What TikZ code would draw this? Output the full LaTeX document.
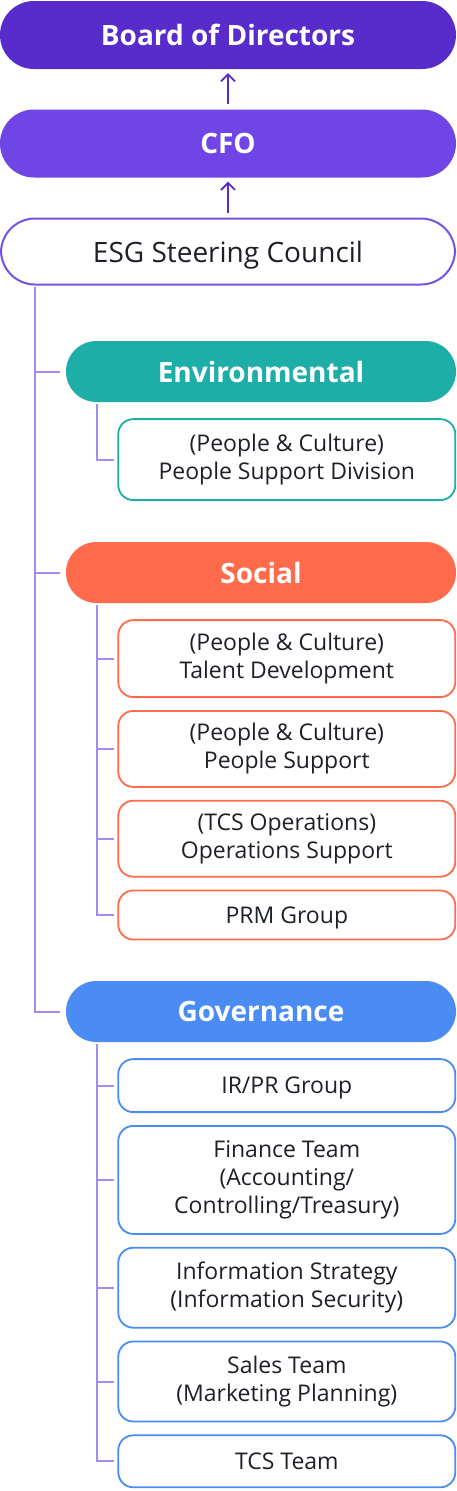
\documentclass[tikz,border=0pt]{standalone}
\usepackage{fontspec}
\setmainfont{Open Sans}
\usetikzlibrary{positioning, arrows.meta}
\definecolor{board}{RGB}{88, 44, 203}
\definecolor{cfo}{RGB}{112, 69, 229}
\definecolor{council}{RGB}{116, 82, 230}
\definecolor{trunk}{RGB}{165, 138, 242}
\definecolor{env}{RGB}{30, 174, 168}
\definecolor{soc}{RGB}{255, 107, 75}
\definecolor{gov}{RGB}{74, 140, 244}
\definecolor{ink}{RGB}{30, 32, 40}

\begin{document}
\begin{tikzpicture}[
    x=1pt, y=-1pt,
    pill/.style={
        rectangle, rounded corners=34pt,
        fill=#1, text=white,
        font=\fontsize{28}{32}\selectfont\bfseries,
        minimum width=456pt, minimum height=68pt,
        inner sep=0pt, text depth=0pt,
    },
    head/.style={
        rectangle, rounded corners=30.5pt,
        fill=#1, text=white,
        font=\fontsize{28}{32}\selectfont\bfseries,
        minimum width=390pt, minimum height=61pt,
        inner sep=0pt, text depth=0pt,
    },
    unit/.style={
        rectangle, rounded corners=15pt,
        draw=#1, fill=white, line width=1.8pt,
        text=ink, font=\fontsize{23}{28}\selectfont, align=center,
        minimum width=337pt, inner sep=0pt,
    },
    branch/.style={draw=trunk, line width=2pt},
    uparrow/.style={
        -{Straight Barb[length=7pt, width=14pt]},
        draw=board, line width=1.8pt,
        shorten <=5pt, shorten >=4pt,
    },
    node distance=12pt,
]
\useasboundingbox (0,0) rectangle (456,1491);

% =================================================
% TOP: reporting line
% =================================================
\node[pill=board] (board) at (228,35) {Board of Directors};
\node[pill=cfo]   (cfo)   at (228,143.5) {CFO};
\node[pill=white, draw=council, line width=2pt, text=ink,
      font=\fontsize{28}{32}\selectfont,
      minimum width=454pt, minimum height=66pt] (council) at (228,251.5)
      {ESG Steering Council};

\draw[uparrow] (cfo) -- (board);
\draw[uparrow] (council) -- (cfo);

% =================================================
% Environmental
% =================================================
\node[head=env] (envhead) at (261,371.5) {Environmental};

\node[unit=env, minimum height=81pt,
      below=16pt of envhead.south east, anchor=north east] (env1)
      {(People \& Culture)\\People Support Division};

% =================================================
% Social
% =================================================
\node[head=soc] (sochead) at (261,572.5) {Social};

\node[unit=soc, minimum height=77pt,
      below=16pt of sochead.south east, anchor=north east] (soc1)
      {(People \& Culture)\\Talent Development};
\node[unit=soc, minimum height=76pt, below=of soc1] (soc2)
      {(People \& Culture)\\People Support};
\node[unit=soc, minimum height=76pt, below=of soc2] (soc3)
      {(TCS Operations)\\Operations Support};
\node[unit=soc, minimum height=49pt, text depth=0pt, below=of soc3] (soc4)
      {PRM Group};

% =================================================
% Governance
% =================================================
\node[head=gov] (govhead) at (261,1011.5) {Governance};

\node[unit=gov, minimum height=53pt, text depth=0pt,
      below=16pt of govhead.south east, anchor=north east] (gov1)
      {IR/PR Group};
\node[unit=gov, minimum height=108pt, below=of gov1] (gov2)
      {Finance Team\\(Accounting/\\Controlling/Treasury)};
\node[unit=gov, minimum height=80pt, below=of gov2] (gov3)
      {Information Strategy\\(Information Security)};
\node[unit=gov, minimum height=80pt, below=of gov3] (gov4)
      {Sales Team\\(Marketing Planning)};
\node[unit=gov, minimum height=52pt, text depth=0pt, below=of gov4] (gov5)
      {TCS Team};

% =================================================
% Tree lines
% =================================================
\coordinate (trunktop) at ([xshift=35pt, yshift=-1pt]council.south west);
\draw[branch, shorten >=6pt] (trunktop) |- (envhead.west);
\draw[branch, shorten >=6pt] (trunktop) |- (sochead.west);
\draw[branch, shorten >=6pt] (trunktop) |- (govhead.west);

\coordinate (envstem) at ([xshift=31pt, yshift=-2pt]envhead.south west);
\draw[branch, shorten >=3pt] (envstem) |- (env1.west);

\coordinate (socstem) at ([xshift=31pt, yshift=-2pt]sochead.south west);
\draw[branch, shorten >=3pt] (socstem) |- (soc1.west);
\draw[branch, shorten >=3pt] (socstem) |- (soc2.west);
\draw[branch, shorten >=3pt] (socstem) |- (soc3.west);
\draw[branch, shorten >=3pt] (socstem) |- (soc4.west);

\coordinate (govstem) at ([xshift=31pt, yshift=-2pt]govhead.south west);
\draw[branch, shorten >=3pt] (govstem) |- (gov1.west);
\draw[branch, shorten >=3pt] (govstem) |- (gov2.west);
\draw[branch, shorten >=3pt] (govstem) |- (gov3.west);
\draw[branch, shorten >=3pt] (govstem) |- (gov4.west);
\draw[branch, shorten >=3pt] (govstem) |- (gov5.west);

\end{tikzpicture}
\end{document}
